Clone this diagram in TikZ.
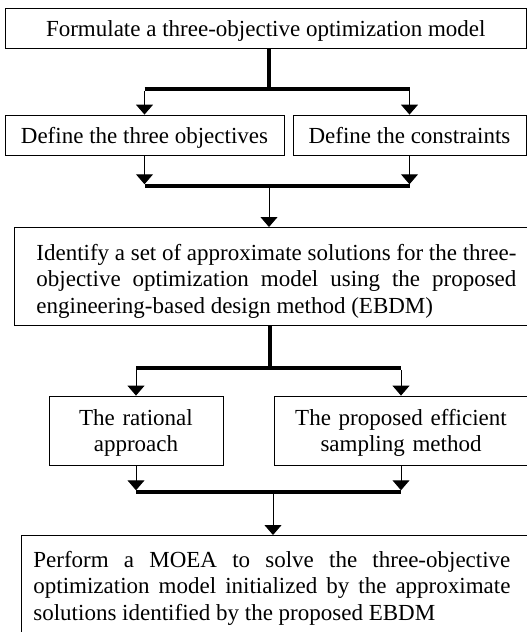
\documentclass[tikz,border=0pt]{standalone}
\usepackage{fontspec}
\setmainfont{Liberation Serif}
\usepackage{tikz}
\usetikzlibrary{arrows.meta}

\begin{document}
\begin{tikzpicture}[line cap=butt,line join=miter,>={Triangle[width=17pt,length=10pt]},x=1pt,y=-1pt,
		box/.style={draw,line width=0.8pt,inner xsep=0pt,inner ysep=0pt,font=\fontsize{23pt}{26.5pt}\selectfont},
		onebox/.style={box,minimum height=40pt,text height=20pt,text depth=4pt},
		twobox/.style={box,minimum height=69pt,align=center,text height=20pt,text depth=30.5pt},
		bar/.style={line width=3.5pt},
		arr/.style={->,line width=1pt}]
		\useasboundingbox (0,0) rectangle (527,632);
		\clip (0,0) rectangle (527,632);
		% boxes
		\node[onebox,minimum width=521.5pt] (form) at (265.75,28) {Formulate a three-objective optimization model};
		\node[onebox,minimum width=279pt] (obj) at (144.5,135) {Define the three objectives};
		\node[onebox,minimum width=233pt] (con) at (409.5,135) {Define the constraints};
		\node[box,anchor=north west,text width=480pt,inner xsep=22pt,inner ysep=10pt,align=justify,text height=23pt,text depth=55pt] (ebdm) at (14,227)
		{Identify a set of approximate solutions for the three-\linebreak objective optimization model using the proposed\linebreak engineering-based design method (EBDM)};
		\node[twobox,text width=174pt] (rat) at (136,430.5) {The rational\\approach};
		\node[twobox,text width=254pt] (samp) at (401,430.5) {The proposed efficient\\sampling method};
		\node[box,anchor=north west,text width=500pt,inner xsep=12pt,inner ysep=8pt,align=justify,text height=24pt,text depth=100pt] (moea) at (21,535)
		{\parbox[t]{477pt}{Perform a MOEA to solve the three-objective\linebreak optimization model initialized by the approximate\linebreak solutions identified by the proposed EBDM}};
		% junction points
		\coordinate (f1) at (269,89);
		\coordinate (j1) at (269,186);
		\coordinate (f2) at (270,368);
		\coordinate (j2) at (273,492);
		% first fork
		\draw[bar] (form.south -| f1) -- (f1);
		\draw[bar] (obj |- f1) -- (con |- f1);
		\draw[arr] ([yshift=-1.75pt]obj |- f1) -- (obj.north);
		\draw[arr] ([yshift=-1.75pt]con |- f1) -- (con.north);
		% first join
		\draw[arr,shorten >=1.75pt] (obj.south) -- (obj |- j1);
		\draw[arr,shorten >=1.75pt] (con.south) -- (con |- j1);
		\draw[bar] (obj |- j1) -- (con |- j1);
		\draw[arr] ([yshift=-1.75pt]j1) -- (j1 |- ebdm.north);
		% second fork
		\draw[bar] (ebdm.south -| f2) -- (f2);
		\draw[bar] (rat |- f2) -- (samp |- f2);
		\draw[arr] ([yshift=-1.75pt]rat |- f2) -- (rat.north);
		\draw[arr] ([yshift=-1.75pt]samp |- f2) -- (samp.north);
		% second join
		\draw[arr,shorten >=1.75pt] (rat.south) -- (rat |- j2);
		\draw[arr,shorten >=1.75pt] (samp.south) -- (samp |- j2);
		\draw[bar] (rat |- j2) -- (samp |- j2);
		\draw[arr] ([yshift=-1.75pt]j2) -- (j2 |- moea.north);
\end{tikzpicture}
\end{document}
